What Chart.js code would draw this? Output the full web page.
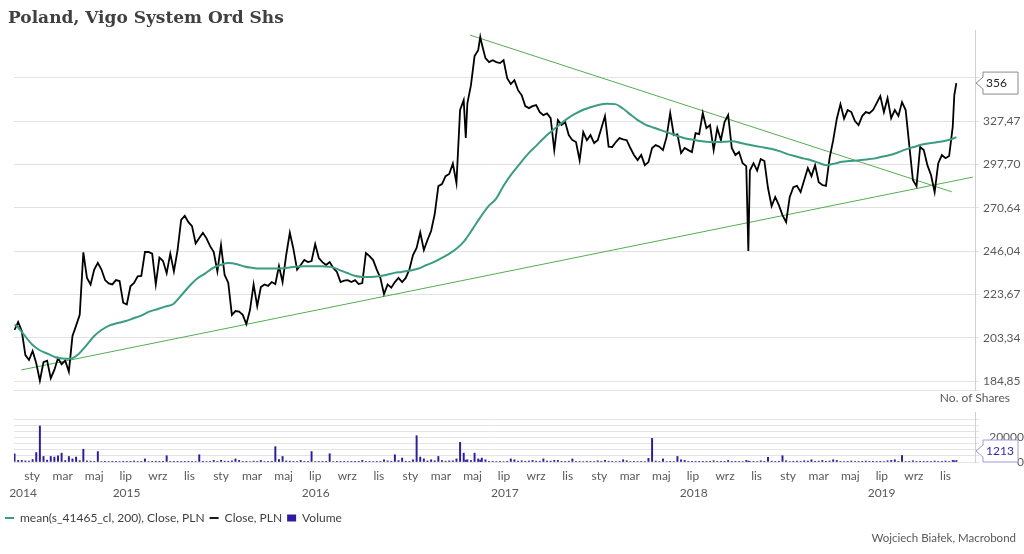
<!DOCTYPE html>
<html><head><meta charset="utf-8">
<script src="https://cdn.jsdelivr.net/npm/chart.js@4.4.1/dist/chart.umd.min.js"></script>
<style>
html,body{margin:0;padding:0;background:#fff;}
#wrap{position:relative;width:1024px;height:554px;overflow:hidden;font-family:Lato,'Noto Sans',sans-serif;}
#title{position:absolute;left:8px;top:7px;font:bold 17px/20px 'DejaVu Serif',serif;color:#404040;white-space:nowrap;}
#box{position:absolute;left:0;top:0;width:1024px;height:554px;}
#shares{position:absolute;right:14px;top:391px;font-size:12px;line-height:14px;color:#595959;white-space:nowrap;}
#footer{position:absolute;right:8px;top:531px;font-size:11.5px;line-height:14px;color:#595959;white-space:nowrap;}
</style></head>
<body><div id="wrap">
<div id="box"><canvas id="c"></canvas></div>
<div id="title">Poland, Vigo System Ord Shs</div>
<div id="shares">No. of Shares</div>
<div id="footer">Wojciech Białek, Macrobond</div>
</div>
<script>
// ---------------- data ----------------
const xRange = ['2014-11-27', '2019-12-28'];
const monthNames = ['sty','lut','mar','kwi','maj','cze','lip','sie','wrz','paź','lis','gru'];
const yearLabels = ['2014','2015','2016','2017','2018','2019'];
const priceTicks = [181.23, 184.85, 203.34, 223.67, 246.04, 270.64, 297.70, 327.47, 360.22];
const priceTickLabels = ['', '184,85', '203,34', '223,67', '246,04', '270,64', '297,70', '327,47', ''];
const priceRange = [181.23, 400.1];
const volumeTicks = [0, 5000, 10000, 15000, 20000, 25000, 30000, 35000];
const volumeTickLabels = ['0', '', '', '', '20000', '', '', ''];
const volumeMax = 40700;

const closeDates = [
'2014-11-28','2014-12-05','2014-12-12','2014-12-19','2014-12-26',
'2015-01-02','2015-01-09','2015-01-16','2015-01-23','2015-01-30',
'2015-02-06','2015-02-13','2015-02-20','2015-02-27',
'2015-03-06','2015-03-13','2015-03-20','2015-03-27',
'2015-04-03','2015-04-10','2015-04-17','2015-04-24',
'2015-05-01','2015-05-08','2015-05-15','2015-05-22','2015-05-29',
'2015-06-05','2015-06-12','2015-06-19','2015-06-26',
'2015-07-03','2015-07-10','2015-07-17','2015-07-24','2015-07-31',
'2015-08-07','2015-08-14','2015-08-21','2015-08-28',
'2015-09-04','2015-09-11','2015-09-18','2015-09-25',
'2015-10-02','2015-10-09','2015-10-16','2015-10-23','2015-10-30',
'2015-11-06','2015-11-13','2015-11-20','2015-11-27',
'2015-12-04','2015-12-11','2015-12-18','2015-12-25',
'2016-01-01','2016-01-08','2016-01-15','2016-01-22','2016-01-29',
'2016-02-05','2016-02-12','2016-02-19','2016-02-26',
'2016-03-04','2016-03-11','2016-03-18','2016-03-25',
'2016-04-01','2016-04-08','2016-04-15','2016-04-22','2016-04-29',
'2016-05-06','2016-05-13','2016-05-20','2016-05-27',
'2016-06-03','2016-06-10','2016-06-17','2016-06-24',
'2016-07-01','2016-07-08','2016-07-15','2016-07-22','2016-07-29',
'2016-08-05','2016-08-12','2016-08-19','2016-08-26',
'2016-09-02','2016-09-09','2016-09-16','2016-09-23','2016-09-30',
'2016-10-07','2016-10-14','2016-10-21','2016-10-28',
'2016-11-04','2016-11-11','2016-11-18','2016-11-25',
'2016-12-02','2016-12-09','2016-12-16','2016-12-23','2016-12-30',
'2017-01-06','2017-01-13','2017-01-20','2017-01-27',
'2017-02-03','2017-02-10','2017-02-17','2017-02-24',
'2017-03-03','2017-03-10','2017-03-17','2017-03-24','2017-03-31',
'2017-04-07','2017-04-14','2017-04-18','2017-04-21','2017-04-28',
'2017-05-05','2017-05-12','2017-05-16','2017-05-19','2017-05-26',
'2017-06-02','2017-06-09','2017-06-16','2017-06-23','2017-06-30',
'2017-07-07','2017-07-14','2017-07-21','2017-07-28',
'2017-08-04','2017-08-11','2017-08-18','2017-08-25',
'2017-09-01','2017-09-08','2017-09-15','2017-09-22','2017-09-29',
'2017-10-06','2017-10-13','2017-10-20','2017-10-27',
'2017-11-03','2017-11-10','2017-11-17','2017-11-24',
'2017-12-01','2017-12-08','2017-12-15','2017-12-22','2017-12-29',
'2018-01-05','2018-01-12','2018-01-19','2018-01-26',
'2018-02-02','2018-02-09','2018-02-16','2018-02-23',
'2018-03-02','2018-03-09','2018-03-16','2018-03-23','2018-03-30',
'2018-04-06','2018-04-13','2018-04-20','2018-04-27',
'2018-05-04','2018-05-11','2018-05-18','2018-05-25',
'2018-06-01','2018-06-08','2018-06-15','2018-06-22','2018-06-29',
'2018-07-06','2018-07-13','2018-07-20','2018-07-27',
'2018-08-03','2018-08-10','2018-08-17','2018-08-24','2018-08-31',
'2018-09-07','2018-09-14','2018-09-21','2018-09-28',
'2018-10-05','2018-10-12','2018-10-16','2018-10-19','2018-10-26',
'2018-11-02','2018-11-09','2018-11-16','2018-11-23','2018-11-30',
'2018-12-07','2018-12-14','2018-12-21','2018-12-28',
'2019-01-04','2019-01-11','2019-01-18','2019-01-25',
'2019-02-01','2019-02-08','2019-02-15','2019-02-22',
'2019-03-01','2019-03-08','2019-03-15','2019-03-22','2019-03-29',
'2019-04-05','2019-04-12','2019-04-19','2019-04-26',
'2019-05-03','2019-05-10','2019-05-17','2019-05-24','2019-05-31',
'2019-06-07','2019-06-14','2019-06-21','2019-06-28',
'2019-07-05','2019-07-12','2019-07-19','2019-07-26',
'2019-08-02','2019-08-09','2019-08-16','2019-08-23','2019-08-30',
'2019-09-06','2019-09-13','2019-09-20','2019-09-27',
'2019-10-04','2019-10-11','2019-10-18','2019-10-25',
'2019-11-01','2019-11-08','2019-11-15','2019-11-18','2019-11-22'
];

const closeValues = [
206.8,210.5,206.3,195.7,193.6,
197.5,192.2,185.0,192.7,193.3,
186.0,189.4,194.4,191.8,
193.3,188.7,204.1,208.8,
213.8,245.3,231.9,228.6,
236.2,239.7,236.2,230.8,229.1,
228.6,230.8,230.3,219.6,
218.8,227.7,229.4,232.7,232.9,
245.5,245.5,244.6,228.6,
242.5,240.7,234.3,244.6,
235.3,246.4,263.5,265.9,262.2,
259.9,250.2,253.2,256.1,
253.0,248.7,245.5,235.3,
249.3,233.4,229.5,213.8,215.6,
215.3,213.8,209.5,216.1,
228.6,218.0,227.3,228.6,
227.9,229.8,228.8,238.0,229.8,
243.9,256.1,247.1,236.2,
238.6,241.2,240.1,240.7,
249.8,242.3,240.1,238.6,240.1,
237.0,235.0,229.8,230.5,
230.8,229.8,230.8,228.8,229.3,
245.0,243.3,241.2,236.2,
231.9,223.8,228.6,227.0,
229.8,231.9,229.8,231.9,236.2,
243.9,247.7,256.3,246.6,
252.1,257.1,266.9,283.8,
285.1,290.1,291.5,298.3,285.7,
335.5,342.9,315.5,340.3,354.4,
377.8,382.8,394.0,387.9,376.1,
372.8,374.4,372.8,372.0,374.4,
359.9,355.2,358.3,350.5,
346.7,338.4,336.9,338.4,
339.2,334.0,331.8,333.0,329.6,
307.2,328.2,324.6,326.7,
317.5,314.0,312.7,300.5,
319.6,314.0,317.5,312.0,314.0,
322.4,331.1,309.5,309.3,
312.7,315.4,314.6,314.0,
308.6,303.9,300.5,303.9,297.2,
299.2,308.6,310.6,309.5,
307.2,316.1,333.3,317.5,
318.0,305.2,308.6,307.2,305.9,
318.9,318.2,333.3,322.4,
324.6,307.2,322.4,314.0,326.7,
331.8,308.6,303.9,305.9,
298.5,296.6,246.1,293.7,298.5,
293.7,301.2,299.9,282.6,271.6,
277.1,272.2,266.3,262.2,
277.1,283.2,284.0,280.1,
287.6,295.3,290.1,297.2,
286.3,284.5,283.9,301.8,314.0,
329.2,339.9,329.2,335.5,
334.0,327.5,324.6,331.1,334.0,
333.2,335.5,340.7,346.0,
334.0,344.4,329.6,335.5,
331.1,341.4,335.5,310.6,287.6,
283.8,309.3,307.2,297.2,
290.8,280.1,298.5,303.9,
301.8,303.2,323.5,346.7,356.0
];

const volumeValues = [
6700,1300,1300,900,700,
2000,7700,29300,4500,1500,
4500,4000,5000,7200,
1200,4500,2500,4000,
1100,10400,900,700,
500,8500,400,300,350,
250,300,400,600,
300,250,800,350,300,
2500,400,300,600,
250,600,5100,300,
250,200,300,250,200,
300,400,5900,600,
400,500,1300,300,
1300,700,600,900,2500,
1300,500,600,400,
700,500,1300,400,
500,600,12500,2000,4500,
900,700,500,400,
1300,300,500,8500,
400,300,250,300,6700,
400,300,250,300,
350,250,300,250,1300,
300,350,400,300,
500,1800,900,600,
5900,1200,3200,600,500,
1800,21400,4000,2500,
900,1800,1000,4500,
1200,700,900,1000,2500,
16000,7200,1500,1800,1200,
7200,2500,1500,3200,1800,
600,500,400,500,400,
600,2500,1800,700,
1000,600,800,1300,
700,600,2500,800,700,
1300,1300,600,500,
700,2500,600,500,
400,600,500,400,1000,
500,1300,600,500,
400,500,1800,1000,
400,500,400,300,400,
3000,19200,800,500,
2500,400,300,400,
4500,1800,1300,300,250,
300,250,200,300,
250,1000,300,250,300,
1300,300,250,300,
400,1300,800,500,300,
400,1000,600,3700,700,
500,600,5100,1000,
400,600,700,500,
1000,800,1800,600,
700,1300,600,800,1800,
1300,500,400,300,
800,400,300,250,800,
300,250,300,250,
400,1000,1300,1800,
300,5300,400,300,1000,
300,250,300,250,
300,800,300,250,
800,400,1300,1000,1213
];

const maDates = [
'2014-11-28','2014-12-01','2014-12-15',
'2015-01-01','2015-01-15','2015-02-01','2015-02-15','2015-03-01','2015-03-15','2015-04-01','2015-04-15',
'2015-05-01','2015-05-15','2015-06-01','2015-06-15','2015-07-01','2015-07-15','2015-08-01','2015-08-15',
'2015-09-01','2015-09-15','2015-10-01','2015-10-15','2015-11-01','2015-11-15','2015-12-01','2015-12-15',
'2016-01-01','2016-01-15','2016-02-01','2016-02-15','2016-03-01','2016-03-15','2016-04-01','2016-04-15',
'2016-05-01','2016-05-15','2016-06-01','2016-06-15','2016-07-01','2016-07-15','2016-08-01','2016-08-15',
'2016-09-01','2016-09-15','2016-10-01','2016-10-15','2016-11-01','2016-11-15','2016-12-01','2016-12-15',
'2017-01-01','2017-01-15','2017-02-01','2017-02-15','2017-03-01','2017-03-15','2017-04-01','2017-04-15',
'2017-05-01','2017-05-15','2017-06-01','2017-06-15','2017-07-01','2017-07-15','2017-08-01','2017-08-15',
'2017-09-01','2017-09-15','2017-10-01','2017-10-15','2017-11-01','2017-11-15','2017-12-01','2017-12-15',
'2018-01-01','2018-01-15','2018-02-01','2018-02-15','2018-03-01','2018-03-15','2018-04-01','2018-04-15',
'2018-05-01','2018-05-15','2018-06-01','2018-06-15','2018-07-01','2018-07-15','2018-08-01','2018-08-15',
'2018-09-01','2018-09-15','2018-10-01','2018-10-15','2018-11-01','2018-11-15','2018-12-01','2018-12-15',
'2019-01-01','2019-01-15','2019-02-01','2019-02-15','2019-03-01','2019-03-15','2019-04-01','2019-04-15',
'2019-05-01','2019-05-15','2019-06-01','2019-06-15','2019-07-01','2019-07-15','2019-08-01','2019-08-15',
'2019-09-01','2019-09-15','2019-10-01','2019-10-15','2019-11-01','2019-11-15','2019-11-22'
];
const maValues = [
209.1,208.9,205.0,
200.3,197.9,196.2,194.8,194.2,194.1,196.2,199.7,
204.1,206.8,209.0,210.0,210.9,212.1,213.6,215.3,
216.6,217.7,219.0,222.8,227.8,231.4,234.1,236.8,
238.7,239.6,239.0,237.8,237.1,236.7,236.7,236.7,
236.9,237.4,237.8,237.9,238.0,237.9,237.6,236.2,
234.4,233.0,232.4,232.4,232.7,233.4,234.5,235.0,
235.7,236.6,238.6,240.1,242.1,244.2,247.5,251.5,
258.2,264.5,271.6,275.8,284.5,291.2,298.4,304.2,
310.1,315.2,320.3,324.5,329.4,332.6,335.7,337.6,
339.4,340.1,339.9,336.8,332.5,328.5,324.8,322.9,
320.8,319.1,316.9,315.3,314.3,313.4,312.7,312.7,
312.9,313.2,312.1,311.0,309.8,309.0,307.9,306.5,
304.3,303.1,301.5,300.3,298.7,297.2,298.2,299.4,
300.0,300.3,300.9,301.5,302.7,303.7,305.6,307.5,
309.3,310.8,311.9,312.5,313.6,315.0,316.1
];

const trendUpperDates = ['2017-04-26', '2019-11-13'];
const trendUpperValues = [395.7, 280.3];
const trendLowerDates = ['2014-12-11', '2019-12-24'];
const trendLowerValues = [189.4, 289.5];

// ---------------- helpers ----------------
function ms(s) { const p = s.split('-'); return Date.UTC(+p[0], +p[1] - 1, +p[2]); }
function pts(dates, vals) { return dates.map((d, i) => ({x: ms(d), y: vals[i]})); }
const X_MIN = ms(xRange[0]), X_MAX = ms(xRange[1]);

// x ticks: odd months (labels) + year mid points (second line)
const xTicks = [];
for (let y = 2014; y <= 2019; y++) {
  for (let m = 0; m < 12; m += 2) {
    const t = Date.UTC(y, m, 1);
    if (t >= X_MIN && t <= X_MAX) xTicks.push({value: t, label: monthNames[m]});
  }
}
yearLabels.forEach(lbl => {
  const y = +lbl;
  const s = Math.max(X_MIN, Date.UTC(y, 0, 1));
  const e = Math.min(X_MAX, Date.UTC(y + 1, 0, 1));
  xTicks.push({value: (s + e) / 2, label: ['', lbl]});
});
xTicks.sort((a, b) => a.value - b.value);

Chart.defaults.font.family = 'Lato, "Noto Sans", sans-serif';
Chart.defaults.color = '#595959';

function drawTag(ctx, x, y, text, stroke, color) {
  const h = 22, w = 35, tip = 7;
  const l = x + 1 + tip;
  ctx.save();
  ctx.beginPath();
  ctx.moveTo(x + 1, y);
  ctx.lineTo(l, y - 6);
  ctx.lineTo(l, y - h / 2);
  ctx.lineTo(l + w, y - h / 2);
  ctx.lineTo(l + w, y + h / 2);
  ctx.lineTo(l, y + h / 2);
  ctx.lineTo(l, y + 6);
  ctx.closePath();
  ctx.fillStyle = '#fff';
  ctx.fill();
  ctx.strokeStyle = stroke;
  ctx.lineWidth = 1;
  ctx.stroke();
  ctx.fillStyle = color;
  ctx.font = '12px Lato, "Noto Sans", sans-serif';
  ctx.textAlign = 'left';
  ctx.textBaseline = 'middle';
  ctx.fillText(text, l + 3, y + 0.5);
  ctx.restore();
}

const valueTags = {
  id: 'valueTags',
  afterDraw(chart) {
    const {ctx, chartArea} = chart;
    const sy = chart.scales.y, sv = chart.scales.yv;
    const lastClose = closeValues[closeValues.length - 1];
    const lastVol = volumeValues[volumeValues.length - 1];
    drawTag(ctx, chartArea.right, sy.getPixelForValue(lastClose), String(Math.round(lastClose)), '#8a8a8a', '#222');
    const vy = Math.min(sv.getPixelForValue(lastVol), sv.bottom - 11);
    drawTag(ctx, chartArea.right, vy, String(lastVol), '#9f99dc', '#3328b0');
  }
};

const fixW = s => { s.width = 49; };

new Chart(document.getElementById('c'), {
  type: 'line',
  data: {
    datasets: [
      {label: 'mean(s_41465_cl, 200), Close, PLN', data: pts(maDates, maValues), borderColor: '#3a9c82', backgroundColor: '#3a9c82',
       borderWidth: 2, pointRadius: 0, pointStyle: 'line', cubicInterpolationMode: 'monotone', xAxisID: 'x', yAxisID: 'y'},
      {label: 'Close, PLN', data: pts(closeDates, closeValues), borderColor: '#000', backgroundColor: '#000',
       borderWidth: 1.8, pointRadius: 0, pointStyle: 'line', tension: 0, xAxisID: 'x', yAxisID: 'y'},
      {type: 'bar', label: 'Volume', data: pts(closeDates, volumeValues), backgroundColor: '#2b1d9e', borderWidth: 0,
       barThickness: 1.3, pointStyle: 'rect', xAxisID: 'x', yAxisID: 'yv'},
      {label: 'trendUpper', data: pts(trendUpperDates, trendUpperValues), borderColor: '#52ae4f', borderWidth: 1,
       pointRadius: 0, xAxisID: 'x', yAxisID: 'y'},
      {label: 'trendLower', data: pts(trendLowerDates, trendLowerValues), borderColor: '#52ae4f', borderWidth: 1,
       pointRadius: 0, xAxisID: 'x', yAxisID: 'y'}
    ]
  },
  options: {
    responsive: true, maintainAspectRatio: false, animation: false, events: [],
    layout: {padding: {top: 30, right: 0, left: 0, bottom: 20}},
    plugins: {
      tooltip: {enabled: false},
      legend: {
        position: 'bottom', align: 'start',
        labels: {
          filter: item => item.datasetIndex <= 2,
          usePointStyle: true, pointStyleWidth: 9, boxHeight: 7, padding: 5,
          color: '#404040', font: {size: 12}
        }
      }
    },
    scales: {
      yl: {position: 'left', min: 0, max: 1, ticks: {display: false}, grid: {display: false}, border: {display: false},
           afterFit: s => { s.width = 14; }},
      y: {
        type: 'logarithmic', position: 'right', stack: 'v', stackWeight: 360,
        min: priceRange[0], max: priceRange[1],
        afterBuildTicks: s => { s.ticks = priceTicks.map(v => ({value: v})); },
        ticks: {callback: (v, i) => priceTickLabels[i], padding: 4, font: {size: 12}, autoSkip: false},
        grid: {color: '#e2e2e2', tickLength: 4, drawTicks: true},
        border: {color: '#d0d0d0'},
        afterFit: fixW
      },
      ys: {position: 'right', stack: 'v', stackWeight: 22, min: 0, max: 1,
           ticks: {display: false}, grid: {display: false}, border: {display: false}, afterFit: fixW},
      yv: {
        type: 'linear', position: 'right', stack: 'v', stackWeight: 50, min: 0, max: volumeMax,
        afterBuildTicks: s => { s.ticks = volumeTicks.map(v => ({value: v})); },
        ticks: {callback: (v, i) => volumeTickLabels[i], padding: 4, crossAlign: 'far', font: {size: 12}, autoSkip: false},
        grid: {color: '#e4e4e4', tickLength: 4},
        border: {color: '#d0d0d0'},
        afterFit: fixW
      },
      x: {
        type: 'linear', position: 'bottom', min: X_MIN, max: X_MAX, offset: false,
        afterBuildTicks: s => { s.ticks = xTicks.map(t => ({value: t.value})); },
        ticks: {callback: (v, i) => xTicks[i].label, autoSkip: false, maxRotation: 0, minRotation: 0,
                padding: 5.5, font: {size: 12, lineHeight: 17 / 12}},
        grid: {display: false, drawTicks: false, offset: false},
        border: {display: false}
      }
    }
  },
  plugins: [valueTags]
});
</script>
</body></html>
